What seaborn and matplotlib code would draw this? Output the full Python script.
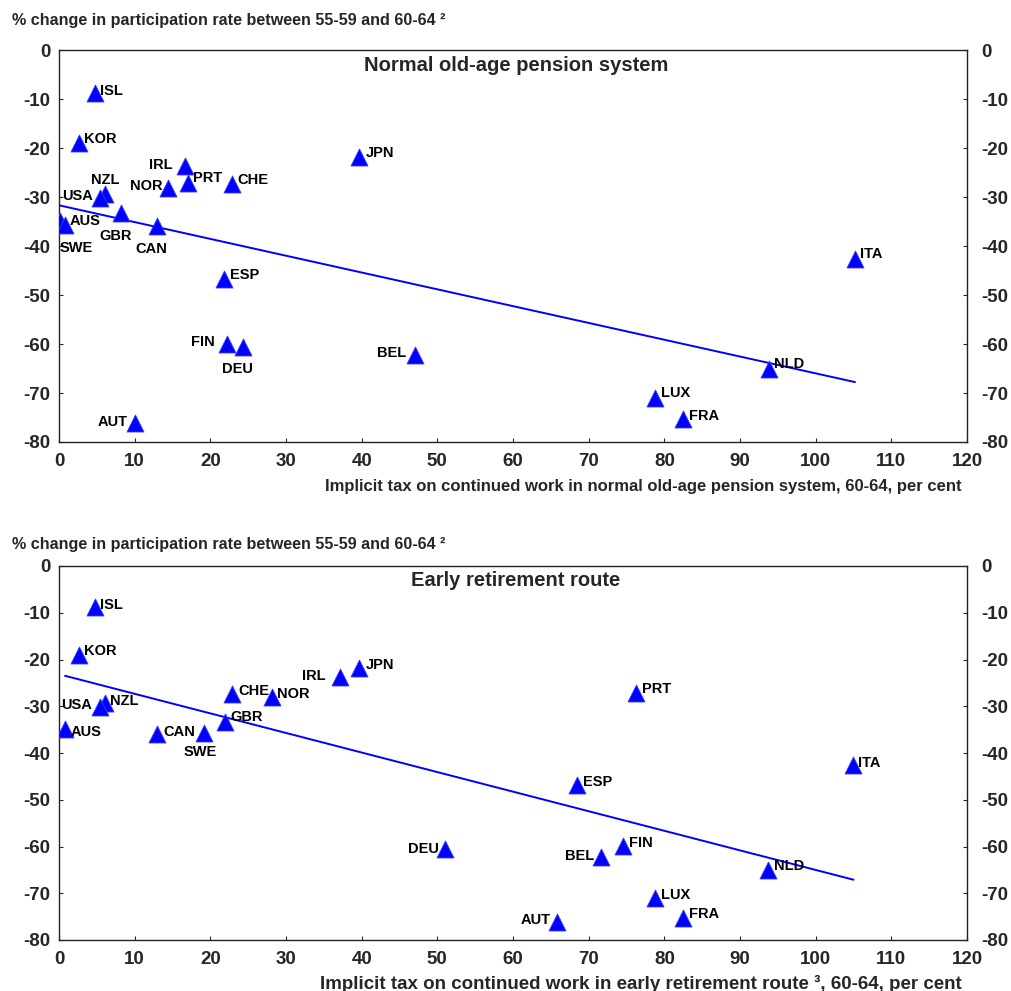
import matplotlib
matplotlib.use("Agg")
import matplotlib.pyplot as plt
import numpy as np
import pandas as pd
import seaborn as sns

countries = ["ISL", "KOR", "IRL", "JPN", "NOR", "PRT", "CHE", "NZL", "USA", "GBR", "AUS",
             "SWE", "CAN", "ESP", "FIN", "DEU", "BEL", "AUT", "LUX", "FRA", "NLD", "ITA"]
# % change in participation rate between 55-59 and 60-64
participation_change = [-8.8, -19.0, -23.7, -21.8, -28.1, -27.2, -27.4, -29.4, -30.1, -33.3, -34.8,
                        -35.7, -35.9, -46.8, -59.9, -60.6, -62.3, -76.2, -71.1, -75.4, -65.1, -42.6]
# implicit tax, normal old-age pension system
tax_normal = [4.8, 2.6, 16.6, 39.7, 14.4, 17.1, 22.9, 6.1, 5.4, 8.2, 0.1,
              0.8, 13.0, 21.8, 22.2, 24.3, 47.0, 10.1, 78.8, 82.5, 93.8, 105.2]
# implicit tax, early retirement route
tax_early = [4.8, 2.6, 37.1, 39.7, 28.2, 76.3, 22.9, 6.1, 5.4, 21.9, 0.8,
             19.2, 13.0, 68.5, 74.6, 51.0, 71.6, 65.8, 78.8, 82.5, 93.7, 105.0]

y_ticks = list(range(-80, 1, 10))
x_ticks = list(range(0, 121, 10))

# label placement (offset pixels, horizontal alignment)
top_labels = {
    "ISL": (5, 2, "left"), "KOR": (5, 4, "left"), "IRL": (-12, 1, "right"),
    "JPN": (6, 4, "left"), "NOR": (-5, 2, "right"), "PRT": (5, 5, "left"),
    "CHE": (5, 4, "left"), "NZL": (0, 14, "center"), "USA": (-7, 2, "right"),
    "GBR": (-5, -23, "center"), "AUS": (10, 0, "left"), "SWE": (-5, -23, "left"),
    "CAN": (-6, -23, "center"), "ESP": (6, 4, "left"), "FIN": (-12, 2, "right"),
    "DEU": (-5, -22, "center"), "BEL": (-8, 2, "right"), "AUT": (-8, 1, "right"),
    "LUX": (6, 5, "left"), "FRA": (6, 3, "left"), "NLD": (5, 5, "left"),
    "ITA": (5, 5, "left"),
}
bottom_labels = {
    "ISL": (5, 2, "left"), "KOR": (5, 4, "left"), "IRL": (-14, 1, "right"),
    "JPN": (6, 3, "left"), "NOR": (5, 3, "left"), "PRT": (6, 4, "left"),
    "CHE": (6, 3, "left"), "NZL": (5, 2, "left"), "USA": (-8, 2, "right"),
    "GBR": (6, 5, "left"), "AUS": (6, -3, "left"), "SWE": (-4, -19, "center"),
    "CAN": (6, 2, "left"), "ESP": (6, 3, "left"), "FIN": (6, 3, "left"),
    "DEU": (-6, 0, "right"), "BEL": (-7, 1, "right"), "AUT": (-6, 2, "right"),
    "LUX": (6, 3, "left"), "FRA": (6, 4, "left"), "NLD": (6, 4, "left"),
    "ITA": (5, 2, "left"),
}

sns.set_theme(style="ticks")
plt.rcParams["font.family"] = ["Liberation Sans", "DejaVu Sans"]
plt.rcParams["axes.unicode_minus"] = False

BLUE = "#0000ff"


def draw_panel(ax, tax, title, labels):
    df = pd.DataFrame({"country": countries, "tax": tax, "change": participation_change})
    sns.regplot(data=df, x="tax", y="change", ax=ax, scatter=False, ci=None,
                truncate=True, color=BLUE, line_kws={"linewidth": 1.4})
    sns.scatterplot(data=df, x="tax", y="change", ax=ax, marker="^", s=150,
                    color=BLUE, edgecolor="#3b3bff", linewidth=0.6, zorder=3)
    for name, xv, yv in zip(df["country"], df["tax"], df["change"]):
        dx, dy, ha = labels[name]
        ax.annotate(name, (xv, yv), xytext=(dx, dy), textcoords="offset pixels",
                    ha=ha, va="center", fontsize=10.5, fontweight="bold",
                    color="black", zorder=4)

    ax.set_xlim(0, 120)
    ax.set_ylim(-80, 0)
    ax.set_xticks(x_ticks)
    ax.set_yticks(y_ticks)
    ax.set_xlabel("")
    ax.set_ylabel("")
    ax.text(0.503, 0.962, title, transform=ax.transAxes, ha="center", va="center",
            fontsize=14.5, fontweight="bold")
    for sp in ax.spines.values():
        sp.set_visible(True)
        sp.set_linewidth(1.0)
        sp.set_color("#222222")
    ax.tick_params(axis="both", direction="in", length=3, width=0.8, labelsize=13.5)
    ax.tick_params(axis="x", pad=8)
    ax.tick_params(axis="y", pad=6)
    for t in ax.get_xticklabels() + ax.get_yticklabels():
        t.set_fontweight("bold")

    right = ax.twinx()
    right.set_ylim(-80, 0)
    right.set_yticks(y_ticks)
    right.tick_params(axis="y", direction="in", length=3, width=0.8, labelsize=13.5, pad=10)
    for t in right.get_yticklabels():
        t.set_fontweight("bold")
    for sp in right.spines.values():
        sp.set_visible(False)


fig = plt.figure(figsize=(10.12, 9.91), dpi=100)
W, H = 1012, 991
ax_top = fig.add_axes([59 / W, 1 - 442 / H, (967 - 59) / W, (442 - 50.3) / H])
ax_bot = fig.add_axes([59 / W, 1 - 940 / H, (967 - 59) / W, (940 - 566) / H])

draw_panel(ax_top, tax_normal, "Normal old-age pension system", top_labels)
draw_panel(ax_bot, tax_early, "Early retirement route", bottom_labels)

ylab = "% change in participation rate between 55-59 and 60-64 \u00b2"
fig.text(12 / W, 1 - 20 / H, ylab, ha="left", va="center", fontsize=11.6, fontweight="bold")
fig.text(12 / W, 1 - 545 / H, ylab, ha="left", va="center", fontsize=11.6, fontweight="bold")
fig.text(962 / W, 1 - 487 / H,
         "Implicit tax on continued work in normal old-age pension system, 60-64, per cent",
         ha="right", va="center", fontsize=12, fontweight="bold")
fig.text(962 / W, 1 - 984 / H,
         "Implicit tax on continued work in early retirement route \u00b3, 60-64, per cent",
         ha="right", va="center", fontsize=13.5, fontweight="bold")

fig.savefig("out.png", dpi=100)
